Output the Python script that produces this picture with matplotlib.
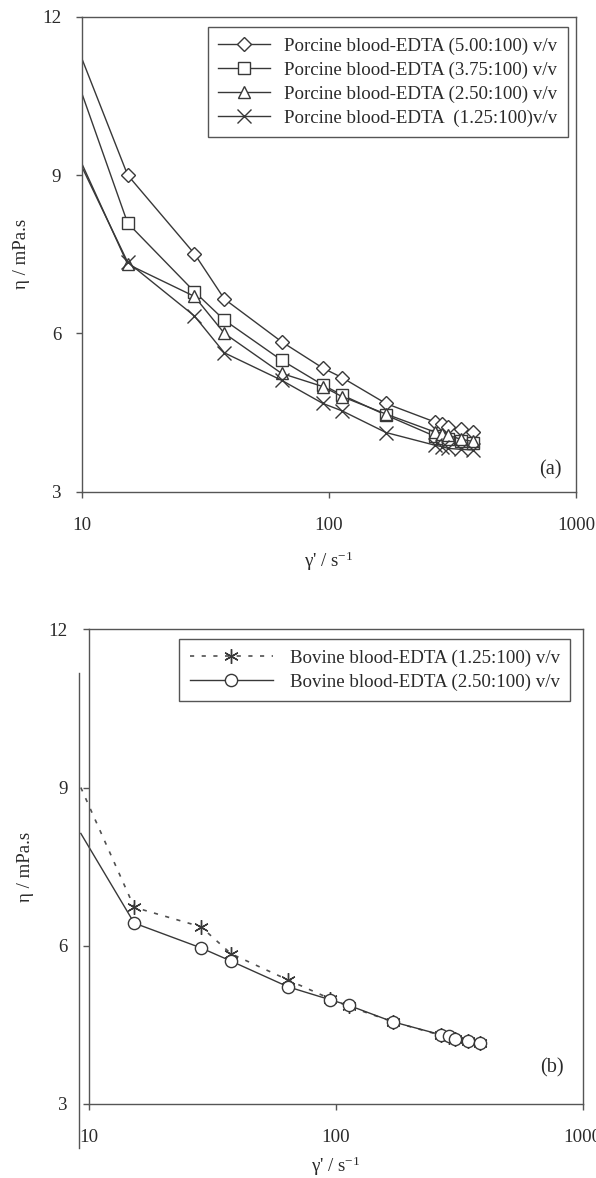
import matplotlib
matplotlib.use("Agg")
import matplotlib.pyplot as plt
from matplotlib.lines import Line2D
from matplotlib.ticker import FixedLocator, NullLocator

plt.rcParams['font.family'] = ['Liberation Serif', 'DejaVu Serif']
plt.rcParams['mathtext.fontset'] = 'custom'
plt.rcParams['mathtext.rm'] = 'Liberation Serif'
plt.rcParams['mathtext.it'] = 'Liberation Serif:italic'

# ---------------- data ----------------
shear_rate = [10, 15.3, 28.5, 37.7, 64.3, 94.5, 113, 170, 268, 288, 303, 343, 383]
porcine_500 = [11.2, 9.0, 7.51, 6.65, 5.84, 5.34, 5.16, 4.67, 4.32, 4.29, 4.23, 4.18, 4.13]
porcine_375 = [10.54, 8.09, 6.79, 6.25, 5.49, 5.02, 4.83, 4.45, 4.05, 4.02, 3.99, 3.95, 3.92]
porcine_250 = [9.21, 7.31, 6.70, 6.00, 5.24, 4.99, 4.80, 4.47, 4.13, 4.10, 4.07, 3.99, 3.95]
porcine_125 = [9.15, 7.35, 6.33, 5.63, 5.11, 4.67, 4.53, 4.12, 3.88, 3.85, 3.82, 3.80, 3.79]

shear_rate_b = [9.3, 15.3, 28.5, 37.7, 64.3, 94.5, 113, 170, 268, 288, 303, 343, 383]
bovine_125 = [9.0, 6.73, 6.36, 5.85, 5.35, 5.00, 4.85, 4.56, 4.30, 4.27, 4.23, 4.19, 4.15]
bovine_250 = [8.13, 6.43, 5.96, 5.71, 5.22, 4.98, 4.87, 4.56, 4.31, 4.28, 4.24, 4.20, 4.16]

porcine_labels = ["Porcine blood-EDTA (5.00:100) v/v",
                  "Porcine blood-EDTA (3.75:100) v/v",
                  "Porcine blood-EDTA (2.50:100) v/v",
                  "Porcine blood-EDTA  (1.25:100)v/v"]
bovine_labels = ["Bovine blood-EDTA (1.25:100) v/v",
                 "Bovine blood-EDTA (2.50:100) v/v"]
x_ticks = [10, 100, 1000]
x_ticklabels = ["10", "100", "1000"]
y_ticks = [3, 6, 9, 12]
y_ticklabels = ["3", "6", "9", "12"]

# ---------------- style ----------------
W, H = 596, 1178
FS = 13.6
LC = '#383838'
SC = '#555555'
TC = '#2a2a2a'

fig = plt.figure(figsize=(W / 100, H / 100), dpi=100)

def px_axes(l, r, t, b):
    return [l / W, 1 - b / H, (r - l) / W, (b - t) / H]

ax1 = fig.add_axes(px_axes(82, 576, 16.7, 491.6))
ax2 = fig.add_axes(px_axes(88.6, 582.7, 629.3, 1104))

def style_axes(ax):
    ax.set_xscale('log')
    ax.set_xlim(10, 1000)
    ax.set_ylim(3, 12)
    ax.xaxis.set_major_locator(FixedLocator(x_ticks))
    ax.xaxis.set_minor_locator(NullLocator())
    ax.set_xticklabels(x_ticklabels)
    ax.set_yticks(y_ticks)
    ax.set_yticklabels(y_ticklabels)
    for s in ax.spines.values():
        s.set_color(SC)
        s.set_linewidth(1.0)
    ax.tick_params(axis='both', which='major', direction='out', length=4,
                   width=1.0, color=SC, labelsize=FS, labelcolor=TC)
    ax.tick_params(axis='y', pad=11)
    ax.tick_params(axis='x', pad=14)

style_axes(ax1)
style_axes(ax2)

mk_common = dict(color=LC, lw=1.0, markerfacecolor='white', markeredgecolor=LC,
                 markeredgewidth=1.0, markevery=slice(1, None))
ax1.plot(shear_rate, porcine_500, marker='D', markersize=7.3, label=porcine_labels[0], **mk_common)
ax1.plot(shear_rate, porcine_375, marker='s', markersize=8.5, label=porcine_labels[1], **mk_common)
ax1.plot(shear_rate, porcine_250, marker='^', markersize=8.5, label=porcine_labels[2], **mk_common)
ax1.plot(shear_rate, porcine_125, marker='x', markersize=9.5, label=porcine_labels[3], **mk_common)

ax2.plot(shear_rate_b, bovine_125, color='#505050', lw=1.2, linestyle=(0, (2.5, 4.5)),
         marker=(6, 2, 0), markersize=10.5, markeredgecolor=LC, markeredgewidth=1.0,
         markevery=slice(1, None), clip_on=False, label=bovine_labels[0])
ax2.plot(shear_rate_b, bovine_250, color=LC, lw=1.0, marker='o', markersize=8.8,
         markerfacecolor='white', markeredgecolor=LC, markeredgewidth=1.0,
         markevery=slice(1, None), clip_on=False, label=bovine_labels[1])

for ax in (ax1, ax2):
    ax.set_ylabel("η / mPa.s", fontsize=FS, color=TC)
    ax.set_xlabel("γ' / s$^{\\mathregular{-1}}$", fontsize=FS, color=TC)
    ax.yaxis.label.set_va('center')
    ax.yaxis.label.set_ha('center')
    ax.xaxis.label.set_va('center')

ax1.yaxis.set_label_coords((21 - 82) / 494, 0.5)
ax1.xaxis.set_label_coords(0.5, (491.6 - 561.7) / 474.9)
ax2.yaxis.set_label_coords((26 - 88.6) / 494.1, 0.5)
ax2.xaxis.set_label_coords(0.5, (1104 - 1166.7) / 474.7)

leg1 = ax1.legend(loc='upper right', bbox_to_anchor=(0.9838, 0.9783), borderaxespad=0,
                  fontsize=FS, handlelength=2.75, handletextpad=0.75, labelspacing=0.36,
                  borderpad=0.55, fancybox=False, framealpha=1, edgecolor=SC)
leg1.get_frame().set_linewidth(1.0)
for t in leg1.get_texts():
    t.set_color(TC)

leg2 = ax2.legend(loc='upper right', bbox_to_anchor=(0.9753, 0.9789), borderaxespad=0,
                  fontsize=FS, handlelength=4.4, handletextpad=0.9, labelspacing=0.34,
                  borderpad=0.55, fancybox=False, framealpha=1, edgecolor=SC)
leg2.get_frame().set_linewidth(1.0)
for t in leg2.get_texts():
    t.set_color(TC)

ax1.text(0.9717, 0.0455, "(a)", transform=ax1.transAxes, ha='right', va='center',
         fontsize=FS + 1, color=TC)
ax2.text(0.962, 0.0758, "(b)", transform=ax2.transAxes, ha='right', va='center',
         fontsize=FS + 1, color=TC)

# stray vertical rule present in the lower panel of the original figure
fig.add_artist(Line2D([79 / W, 79 / W], [1 - 672.7 / H, 1 - 1148 / H],
                      transform=fig.transFigure, color=SC, lw=1.0))

fig.savefig("out.png", dpi=100)
